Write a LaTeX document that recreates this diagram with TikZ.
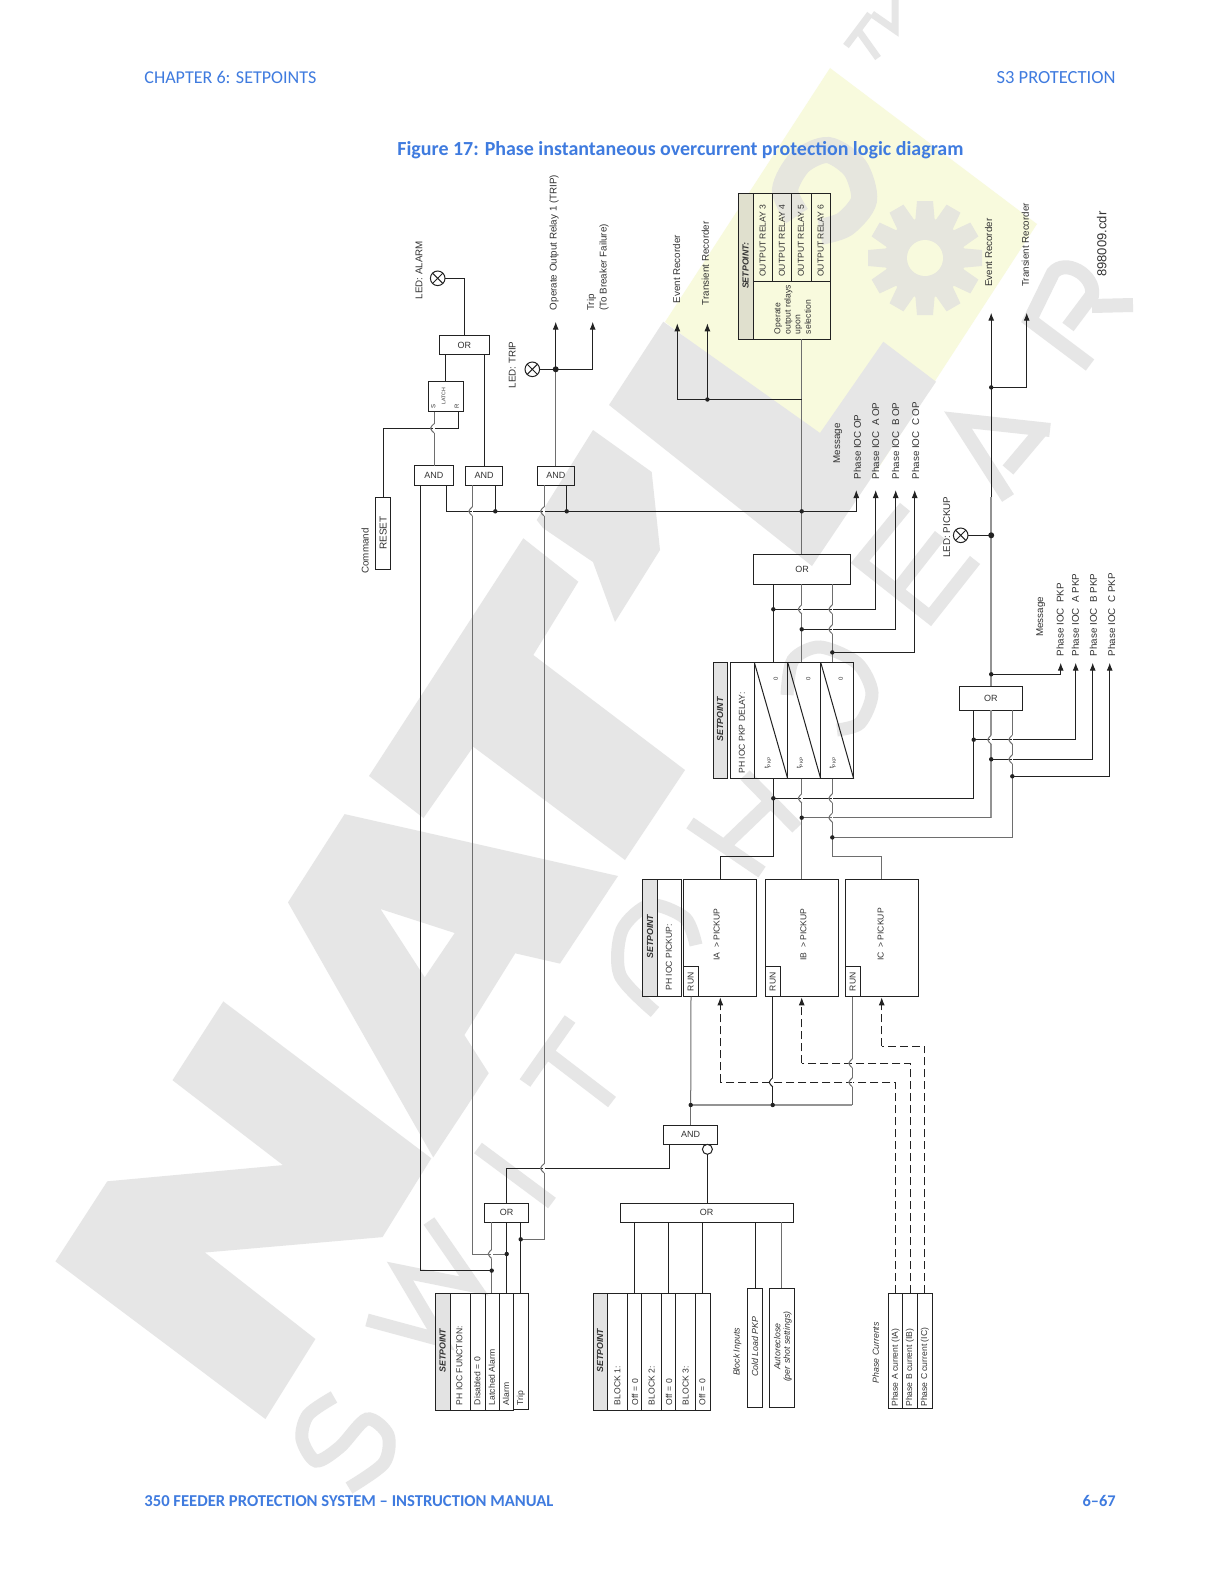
\documentclass[tikz,border=0pt]{standalone}
\usepackage{fontspec}
\usepackage{graphicx}
\setmainfont{Liberation Sans}
\newfontfamily\headfont{Carlito}
\usetikzlibrary{arrows.meta,calc}
\definecolor{hblue}{HTML}{3F7BDF}
\definecolor{wmgray}{HTML}{E6E6E6}
\definecolor{wmyel}{HTML}{F8FADD}
\definecolor{wmgear}{HTML}{E6E6DE}
\definecolor{wire}{HTML}{222222}
\definecolor{gwire}{HTML}{6E6E6E}
\definecolor{hfill}{HTML}{E3E3E3}
\definecolor{hfillb}{HTML}{E0E0CE}
\definecolor{txt}{HTML}{333333}
\tikzset{
  w/.style={draw=wire,line width=0.5pt},
  g/.style={draw=gwire,line width=0.5pt},
  gt/.style={draw=gray!85,line width=0.85pt},
  dsh/.style={draw=wire,line width=0.5pt,dash pattern=on 4pt off 2pt},
  arr/.style={-{Latex[length=4pt,width=3pt]}},
  bxs/.style={draw=wire,line width=0.5pt,inner sep=0pt,outer sep=0pt,font=\fontsize{4.5}{5}\selectfont,text=txt},
  vl/.style={rotate=90,anchor=west,inner sep=0pt,outer sep=0pt,text=txt,font=\fontsize{4.3}{5}\selectfont},
  fA/.style={font=\fontsize{4.9}{6}\selectfont},
  cen/.style={anchor=center},
  sp/.style={anchor=center,font=\fontsize{4.4}{5}\selectfont\bfseries\itshape},
  it/.style={font=\fontsize{4.4}{5}\selectfont\itshape},
  jd/.style={circle,inner sep=0pt,minimum size=0pt},
  led/.style={circle,draw=wire,line width=0.5pt,inner sep=0pt,outer sep=0pt,minimum size=7.3pt},
  wmp/.style={fill=wmgray,draw=none},
  wms/.style={draw=wmgray,line width=6.5pt,line join=miter},
}
\newcommand{\bx}[7][]{%
  \pgfmathsetmacro{\bw}{(#5-#3)*0.5}\pgfmathsetmacro{\bh}{(#6-#4)*0.5}%
  \node[bxs,#1,minimum width=\bw pt,minimum height=\bh pt] (#2) at ({(#3+#5)/2},{(#4+#6)/2}) {#7};}
\newcommand{\vt}[5][]{\node[vl,#1] (#2) at (#3,#4) {#5};}
\newcommand{\hop}[3][g]{%
  \draw[white,line width=0.8pt] (#2,#3-4.5) -- (#2,#3+4.5);
  \draw[#1] (#2,#3-4.5) .. controls (#2-1,#3-2.5) and (#2-3.5,#3-2.5) .. (#2-3.5,#3) .. controls (#2-3.5,#3+2.5) and (#2-1,#3+2.5) .. (#2,#3+4.5);}
\newcommand{\lamp}[3]{\node[led] (#1) at (#2,#3) {};
  \draw[w] (#1.north west) -- (#1.south east) (#1.north east) -- (#1.south west);}
\begin{document}
\begin{tikzpicture}[x=0.5pt,y=-0.5pt]
\path[use as bounding box,fill=white] (0,0) rectangle (1224,1584);
% ---------- watermark ----------
\fill[wmyel] (830,68) -- (1037,224) -- (872,478) -- (665,322) -- cycle;
\foreach \a in {0,30,...,330}{\fill[wmgear,rotate around={\a:(925,258)}] (917,201) -- (933,201) -- (938,258) -- (912,258) -- cycle;}
\fill[wmgear] (925,258) circle[radius=20pt];
\fill[wmyel] (925,258) circle[radius=9pt];
\draw[wmgear,line width=13pt,smooth] plot coordinates {(797,216) (785,190) (800,162) (828,150) (855,168) (864,200) (845,224) (820,232)};
\fill[wmp] (223.3,1001.4) -- (172.5,1080.2) -- (283,1165.1) -- (107.3,1181.3) -- (55.4,1261.4) -- (265.4,1419) -- (315.4,1339) -- (204.9,1252.5) -- (382.5,1237.1) -- (431.3,1158.3) -- cycle;
\fill[wmp,even odd rule] (344.6,814.1) -- (288,902.4) -- (433.2,1157.4) -- (488.7,1073.2) -- (464.4,1035) -- (515.2,953.3) -- (560,963.6) -- (618,876) -- cycle (380.5,909) -- (454.7,933) -- (424.7,977.3) -- cycle;
\fill[wmp] (523.3,538.3) -- (578.3,581.7) -- (533.3,655) -- (685,770) -- (625,860) -- (473.3,746.7) -- (423.5,818) -- (369,776) -- cycle;
\fill[wmp] (536.7,520) -- (593,430) -- (651.7,472) -- (660,550) -- (615,622) -- (593,562) -- (543,528) -- cycle;
\fill[wmp] (663.3,321.7) -- (820,433) -- (883.3,341.7) -- (936,381.7) -- (812,566) -- (609,405) -- cycle;
\draw[wms,smooth] plot coordinates {(334,1397) (308,1415) (302,1439) (316,1461) (340,1447) (367,1419) (388,1435) (384,1463) (349,1488)};
\draw[wms] (367,1320) -- (441,1340) -- (400,1271) -- (474,1286) -- (429,1221);
\draw[wms] (478,1148) -- (552,1203);
\draw[wms] (525,1083) -- (570,1019) (548,1053) -- (612,1102);
\draw[wms,smooth] plot coordinates {(696,945) (685,918) (650,905) (622,930) (620,975) (655,1012)};
\draw[wms] (690,823) -- (762,872) (745,775) -- (797,828) (722,848) -- (770,802);
\draw[wms,smooth] plot coordinates {(787,695) (793,660) (820,647) (857,663) (872,693) (860,723) (837,730)};
\draw[wms] (905,507) -- (860,562) -- (930,617) -- (975,560) (940,535) -- (897,590);
\draw[wms,line width=7pt] (1008,498) -- (958,420) -- (1050,430) (1008,470) -- (1040,432);
\draw[wms,line width=7pt] (1090,365) -- (1030,320) -- (1053,273) .. controls (1065,258) and (1095,275) .. (1092,295) -- (1068,327) (1092,306) -- (1133,305);
\draw[wmgray,line width=3.5pt] (846,46) -- (870,14) (858,30) -- (878,58) (872,14) -- (895,30) -- (895,-5);
% ---------- header ----------
\node[anchor=west,inner sep=0pt,text=hblue] (hL) at (144,77.5) {\resizebox{86pt}{!}{\headfont CHAPTER 6: SETPOINTS}};
\node[anchor=east,inner sep=0pt,text=hblue] (hR) at (1116,77.5) {\resizebox{59.5pt}{!}{\headfont S3 PROTECTION}};
\node[anchor=west,inner sep=0pt,text=hblue] (title) at (397,150) {\resizebox{283pt}{!}{\headfont\bfseries Figure 17: Phase instantaneous overcurrent protection logic diagram}};
\node[anchor=west,inner sep=0pt,text=hblue] (fL) at (144,1501) {\resizebox{204.5pt}{!}{\headfont\bfseries 350 FEEDER PROTECTION SYSTEM – INSTRUCTION MANUAL}};
\node[anchor=east,inner sep=0pt,text=hblue] (fR) at (1116,1501) {\resizebox{16.5pt}{!}{\headfont\bfseries 6–67}};
% ---------- boxes ----------
\bx{orA}{439.3}{335.7}{489.3}{354.3}{OR}
\bx{latch}{428.3}{381.3}{463.3}{411.7}{}
\bx{and1}{414.3}{465.7}{453.3}{485}{AND}
\bx{and2}{465.3}{466.3}{502.7}{485.3}{AND}
\bx{and3}{537.3}{466.3}{574.3}{485.3}{AND}
\bx{reset}{375.7}{497.3}{390.7}{569}{}
\bx[fill=hfillb]{relH}{738.3}{193.3}{753.3}{339.3}{}
\bx{relM}{753.3}{281}{830.3}{339.3}{}
\bx{r3}{753.3}{193.3}{772.3}{281}{}
\bx{r4}{772.3}{193.3}{791.3}{281}{}
\bx{r5}{791.3}{193.3}{811.3}{281}{}
\bx{r6}{811.3}{193.3}{830.3}{281}{}
\bx{orB}{753.3}{554.3}{850.7}{584.3}{OR}
\bx{orC}{959.3}{686.3}{1022.3}{710.3}{OR}
\bx[fill=hfill]{dlyH}{713.3}{662.3}{727.7}{778.7}{}
\bx{dlyN}{730.3}{662.3}{754.3}{778.7}{}
\bx{c1}{754.3}{662.3}{787.7}{778.7}{}
\bx{c2}{787.7}{662.3}{820.7}{778.7}{}
\bx{c3}{820.7}{662.3}{853.7}{778.7}{}
\draw[w] (c1.north west) -- (c1.south east) (c2.north west) -- (c2.south east) (c3.north west) -- (c3.south east);
\bx[fill=hfill]{pkH}{642.7}{879.3}{657.7}{996.7}{}
\bx{pkN}{657.7}{879.3}{681.7}{996.7}{}
\bx{iaB}{683.3}{879.3}{756.7}{996.7}{}
\bx{ibB}{765.3}{879.3}{838.7}{996.7}{}
\bx{icB}{845.3}{879.3}{918.7}{996.7}{}
\bx{runA}{683.3}{966.7}{698.7}{996.7}{}
\bx{runB}{765.3}{966.7}{780.7}{996.7}{}
\bx{runC}{845.3}{966.7}{860.7}{996.7}{}
\bx{and4}{663.3}{1125.3}{717.7}{1144.3}{AND}
\node[circle,draw=wire,line width=0.5pt,inner sep=0pt,outer sep=0pt,minimum size=5pt] (bub) at (707.4,1149.3) {};
\bx{or1}{484.3}{1203.3}{528.7}{1222.3}{OR}
\bx{or2}{620.3}{1203.3}{793.7}{1222.3}{}
\bx[fill=hfill]{s1H}{435.3}{1293.3}{450.3}{1410.5}{}
\bx{s1a}{450.3}{1293.3}{470.7}{1410.5}{}
\bx{s1b}{470.7}{1293.3}{485.4}{1410.5}{}
\bx{s1c}{485.4}{1293.3}{499.3}{1410.5}{}
\bx{s1d}{499.3}{1293.3}{513.7}{1410.5}{}
\bx{s1e}{513.7}{1293.3}{528.3}{1409.3}{}
\bx[fill=hfill]{s2H}{593.3}{1293.3}{607.7}{1410.5}{}
\bx{s2a}{607.7}{1293.3}{627.3}{1410.5}{}
\bx{s2b}{627.3}{1293.3}{641.3}{1410.5}{}
\bx{s2c}{641.3}{1293.3}{661.3}{1410.5}{}
\bx{s2d}{661.3}{1293.3}{675.3}{1410.5}{}
\bx{s2e}{675.3}{1293.3}{695.3}{1410.5}{}
\bx{s2f}{695.3}{1293.3}{710.3}{1410.5}{}
\bx{cold}{747.3}{1288.3}{762.3}{1407.7}{}
\bx{auto}{769.3}{1288.3}{794.3}{1407.7}{}
\bx{pa}{888.3}{1293.3}{902.7}{1408.3}{}
\bx{pb}{902.7}{1293.3}{917.3}{1408.3}{}
\bx{pc}{917.3}{1293.3}{932.3}{1408.3}{}
% ---------- lamps ----------
\lamp{ledA}{437.7}{278.3}
\lamp{ledT}{532.3}{369.3}
\lamp{ledP}{960.7}{535.3}
% ---------- free ends and junctions ----------
\coordinate (tR1) at (555.7,321.7); \coordinate (tTr) at (592.7,321.7);
\coordinate (tE1) at (677.3,323.3); \coordinate (tT1) at (707.4,323.3);
\coordinate (tMo) at (856.3,490); \coordinate (tMa) at (875.7,490); \coordinate (tMb) at (895.7,490); \coordinate (tMc) at (914.7,490);
\coordinate (tE2) at (991.3,312.7); \coordinate (tT2) at (1026.7,312.7);
\coordinate (tPp) at (1060.7,662.7); \coordinate (tPa) at (1075.7,662.7); \coordinate (tPb) at (1092.7,662.7); \coordinate (tPc) at (1109.7,662.7);
\coordinate (tDa) at (720.3,997.3); \coordinate (tDb) at (801.7,997.3); \coordinate (tDc) at (881.7,997.3);
\coordinate (jRel) at (801.7,399.5);
\node[jd] (jT) at (555.7,369.3) {};
\node[jd] (jBa) at (495.3,511.3) {};
\node[jd] (jBb) at (566.7,511.3) {};
\node[jd] (jOP) at (801.7,511.3) {};
\node[jd] (jRec) at (707.4,399.5) {};
\node[jd] (jA) at (773.3,609.3) {};
\node[jd] (jB) at (801.7,629.3) {};
\node[jd] (jC) at (832.3,652.4) {};
\node[jd] (jDa) at (773.3,798.3) {};
\node[jd] (jDb) at (801.7,817.7) {};
\node[jd] (jDc) at (832.3,837.4) {};
\node[jd] (jE2) at (991.2,387.4) {};
\node[jd] (jLP) at (991.2,535.3) {};
\node[jd] (jPP) at (991.2,674.3) {};
\node[jd] (jPa) at (973.7,739.7) {};
\node[jd] (jPb) at (991.2,759.3) {};
\node[jd] (jPc) at (1012.3,776.3) {};
\node[jd] (jR0) at (690.7,1105) {};
\node[jd] (jR1) at (772.7,1105) {};
\node[jd] (jO1) at (520.7,1239.3) {};
\node[jd] (jO2) at (506.7,1254) {};
\node[jd] (jO3) at (491.7,1270.6) {};
% ---------- wires, solid ----------
\draw[w] (ledA.east) -| (orA.north);
\draw[w] (orA.south -| 445.7,0) -- (latch.north -| 445.7,0);
\draw[w] (orA.south -| 484.7,0) -- (and2.north -| 484.7,0);
\draw[g] (latch.south -| 434,0) -- (and1.north -| 434,0);
\draw[w] (latch.south -| 458.7,0) -- (458.7,428.3) -| (reset.north);
\draw[w] (and1.south -| 420.3,0) |- (jO3);
\draw[w,arr] (and1.south -| 446.7,0) |- (jOP) -| (tMo);
\draw[g] (and2.south -| 472.3,0) |- (jO2);
\draw[w] (and2.south -| 495.3,0) -- (jBa);
\draw[g] (and3.south -| 544,0) |- (jO1);
\draw[w] (and3.south -| 566.7,0) -- (jBb);
\draw[g] (and3.north -| jT) -- (jT);
\draw[w,arr] (jT) -- (tR1);
\draw[w,arr] (jT) -| (tTr);
\draw[w] (ledT.east) -- (jT);
\draw[g] (relM.south -| jRel) -- (orB.north -| jRel);
\draw[w,arr] (jRel) -| (tE1);
\draw[w,arr] (jRec) -- (tT1);
\draw[w] (orB.south -| jA) -- (c1.north -| jA);
\draw[g] (orB.south -| jB) -- (c2.north -| jB);
\draw[g] (orB.south -| jC) -- (c3.north -| jC);
\draw[w,arr] (jA) -| (tMa);
\draw[w,arr] (jB) -| (tMb);
\draw[w,arr] (jC) -| (tMc);
\draw[w] (c1.south -| jA) -- (773.3,856.7) -- (720.3,856.7) -- (iaB.north -| 720.3,0);
\draw[g] (c2.south -| jB) -- (ibB.north -| jB);
\draw[g] (c3.south -| jC) -- (832.3,856.7) -- (881.7,856.7) -- (icB.north -| 881.7,0);
\draw[w] (orC.south -| 973.7,0) -- (973.7,798.3) -- (jDa);
\draw[gt] (orC.south -| 991.2,0) -- (991.2,817.7);
\draw[g] (991.2,817.7) -- (jDb);
\draw[g] (orC.south -| 1012.3,0) -- (1012.3,837.4) -- (jDc);
\draw[gt] (orC.north -| 991.2,0) -- (991.2,497);
\draw[w,arr] (991.2,497) -- (tE2 -| 991.2,0);
\draw[w,arr] (jE2) -| (tT2);
\draw[w] (ledP.east) -- (jLP);
\draw[w,arr] (jPP) -| (tPp);
\draw[w,arr] (jPa) -| (tPa);
\draw[w,arr] (jPb) -| (tPb);
\draw[w,arr] (jPc) -| (tPc);
\draw[w] (and4.south -| 669.3,0) -- (669.3,1168.3) -- (506.7,1168.3) -- (or1.north -| 506.7,0);
\draw[w] (bub.south) -- (or2.north -| bub.south);
\draw[g] (runA.south) -- (jR0);
\draw[g] (jR0) -- (and4.north -| jR0);
\draw[w] (runB.south -| jR1) -- (jR1);
\draw[g] (runC.south -| 852.3,0) -- (852.3,1105);
\draw[gt] (jR0) -- (852.3,1105);
\draw[g] (or1.south -| 491.7,0) -- (s1c.north -| 491.7,0);
\draw[w] (or1.south -| 506.7,0) -- (s1d.north -| 506.7,0);
\draw[w] (or1.south -| 520.7,0) -- (s1e.north -| 520.7,0);
\draw[w] (or2.south -| 634.3,0) -- (s2b.north -| 634.3,0);
\draw[w] (or2.south -| 668.3,0) -- (s2d.north -| 668.3,0);
\draw[w] (or2.south -| 702.3,0) -- (s2f.north -| 702.3,0);
\draw[w] (or2.south -| 755.3,0) -- (cold.north -| 755.3,0);
\draw[g] (or2.south -| 781.7,0) -- (auto.north -| 781.7,0);
% ---------- wires, dashed ----------
\draw[dsh] (pa.north -| 895.3,0) -- (895.3,1082.3) -- (720.3,1082.3);
\draw[dsh,arr] (720.3,1082.3) -- (tDa);
\draw[dsh] (pb.north -| 910.3,0) -- (910.3,1063.3) -- (801.7,1063.3);
\draw[dsh,arr] (801.7,1063.3) -- (tDb);
\draw[dsh] (pc.north -| 924.7,0) -- (924.7,1046.3) -- (881.7,1046.3);
\draw[dsh,arr] (881.7,1046.3) -- (tDc);
% ---------- crossings ----------
\hop{434}{428.3}
\hop{472.3}{511.3}
\hop{544}{511.3}
\hop{544}{1168.3}
\hop{491.7}{1254}
\hop{801.7}{609.3}
\hop{832.3}{609.3}
\hop{832.3}{629.3}
\hop{801.7}{798.3}
\hop{832.3}{798.3}
\hop{832.3}{817.7}
\hop{991.2}{739.7}
\hop{1012.3}{739.7}
\hop{1012.3}{759.3}
\hop[w]{772.7}{1082.3}
\hop{852.3}{1082.3}
\hop{852.3}{1063.3}
% ---------- junction dots, over the wires ----------
\foreach \n in {jBa,jBb,jOP,jRec,jA,jB,jC,jDa,jDb,jDc,jE2,jPP,jPa,jPb,jPc,jR0,jR1,jO1,jO2,jO3}{\fill[wire] (\n) circle[radius=1.1pt];}
\foreach \n in {jT,jLP}{\fill[wire] (\n) circle[radius=1.5pt];}
% ---------- labels ----------
\vt[fA,cen]{lLA}{419}{270}{LED: ALARM}
\vt[fA,cen]{lLT}{512.3}{365}{LED: TRIP}
\vt[fA,cen]{lLP}{946.7}{527}{LED: PICKUP}
\vt[fA]{lOp}{554}{310}{Operate Output Relay 1 (TRIP)}
\vt[fA]{lTr}{591.7}{310.7}{Trip}
\vt[fA]{lTb}{604}{310.7}{(To Breaker Failure)}
\vt[fA]{lE1}{676.7}{303.3}{Event Recorder}
\vt[fA]{lT1}{705.3}{305}{Transient Recorder}
\vt[fA]{lE2}{988.7}{286.7}{Event Recorder}
\vt[fA]{lT2}{1025.3}{286.7}{Transient Recorder}
\node[vl,font=\fontsize{6.5}{7}\selectfont,text=black!80] (cdr) at (1101.7,276.7) {898009.cdr};
\vt[fA,cen]{lCmd}{365}{551}{Command}
\node[vl,cen,font=\fontsize{5}{6}\selectfont] (tRst) at (reset.center) {RESET};
\node[vl,cen,font=\fontsize{2.6}{3}\selectfont] (tLat) at (443.7,396) {LATCH};
\node[vl,cen,font=\fontsize{3}{3}\selectfont] (tS) at (433.3,406) {S};
\node[vl,cen,font=\fontsize{3}{3}\selectfont] (tR) at (456.7,406) {R};
\vt[sp]{tS1}{745.7}{265.8}{SETPOINT:}
\vt[cen]{tR3}{762.7}{240.5}{OUTPUT RELAY 3}
\vt[cen]{tR4}{782}{240.5}{OUTPUT RELAY 4}
\vt[cen]{tR5}{801}{240.5}{OUTPUT RELAY 5}
\vt[cen]{tR6}{820.7}{240.5}{OUTPUT RELAY 6}
\vt{tO1}{778.3}{334}{Operate}
\vt{tO2}{788.3}{334}{output relays}
\vt{tO3}{799}{334}{upon}
\vt{tO4}{807.7}{334}{selection}
\vt[fA]{lMo}{837.7}{463.3}{Message}
\vt[fA]{lOo}{857.3}{479.3}{Phase IOC OP}
\vt[fA]{lOa}{875.7}{479.3}{Phase IOC\ \ A OP}
\vt[fA]{lOb}{895.7}{479.3}{Phase IOC\ \ B OP}
\vt[fA]{lOc}{915.7}{479.3}{Phase IOC\ \ C OP}
\vt[fA]{lMp}{1040.7}{636.7}{Message}
\vt[fA]{lPp}{1060}{656}{Phase IOC\ \ PKP}
\vt[fA]{lPa}{1075.3}{656}{Phase IOC\ \ A PKP}
\vt[fA]{lPb}{1093.3}{656}{Phase IOC\ \ B PKP}
\vt[fA]{lPc}{1111.7}{656}{Phase IOC\ \ C PKP}
\vt[sp]{tS2}{720}{719.3}{SETPOINT}
\vt{tDl}{742}{773.5}{PH IOC PKP DELAY:}
\node[vl,cen,font=\fontsize{3}{3}\selectfont] (z1) at (775.7,678.7) {0};
\node[vl,cen,font=\fontsize{3}{3}\selectfont] (z2) at (808.3,678.7) {0};
\node[vl,cen,font=\fontsize{3}{3}\selectfont] (z3) at (840.7,678.7) {0};
\node[vl,cen,font=\fontsize{3.4}{3}\selectfont] (p1) at (767.7,762.7) {t\textsubscript{PKP}};
\node[vl,cen,font=\fontsize{3.4}{3}\selectfont] (p2) at (800,762.7) {t\textsubscript{PKP}};
\node[vl,cen,font=\fontsize{3.4}{3}\selectfont] (p3) at (832.7,762.7) {t\textsubscript{PKP}};
\vt[sp]{tS3}{650}{936.7}{SETPOINT}
\vt{tPk}{669}{990.7}{PH IOC PICKUP:}
\vt[cen]{tRa}{690.7}{981.7}{RUN}
\vt[cen]{tRb}{772.7}{981.7}{RUN}
\vt[cen]{tRc}{852.7}{981.7}{RUN}
\vt[cen]{tIa}{716.7}{934.5}{IA\ \ > PICKUP}
\vt[cen]{tIb}{803.3}{934.5}{IB\ \ > PICKUP}
\vt[cen]{tIc}{880.7}{934.5}{IC\ \ > PICKUP}
\node[bxs,draw=none,anchor=center] (tOr2) at (706.7,1212) {OR};
\vt[sp]{tS4}{442.7}{1350.7}{SETPOINT}
\vt{t41}{459.3}{1405}{PH IOC FUNCTION:}
\vt{t42}{477.3}{1405}{Disabled = 0}
\vt{t43}{491.7}{1405}{Latched Alarm}
\vt{t44}{506}{1405}{Alarm}
\vt{t45}{521}{1405}{Trip}
\vt[sp]{tS5}{600}{1350.7}{SETPOINT}
\vt{t51}{617.3}{1405}{BLOCK 1:}
\vt{t52}{635}{1405}{Off = 0}
\vt{t53}{651.7}{1405}{BLOCK 2:}
\vt{t54}{669}{1405}{Off = 0}
\vt{t55}{685.7}{1405}{BLOCK 3:}
\vt{t56}{702.3}{1405}{Off = 0}
\vt[it,cen]{lBI}{737.3}{1352}{Block Inputs}
\vt[it,cen]{tCl}{755}{1346.7}{Cold Load PKP}
\vt[it,cen]{tAu}{777.3}{1346.7}{Autoreclose}
\vt[it,cen]{tAs}{787.7}{1346.7}{(per shot settings)}
\vt[it,cen]{lPC}{875.7}{1352.7}{Phase Currents}
\vt{tPa}{895.7}{1406.7}{Phase A current (IA)}
\vt{tPb}{910}{1406.7}{Phase B current (IB)}
\vt{tPc}{925}{1406.7}{Phase C current (IC)}
\end{tikzpicture}
\end{document}
